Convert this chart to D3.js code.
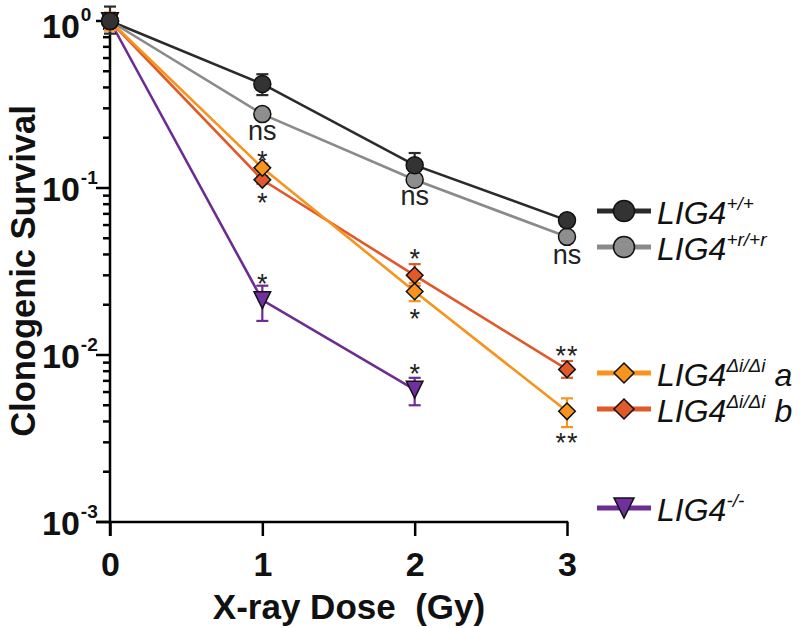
<!DOCTYPE html>
<html><head><meta charset="utf-8">
<script src="https://cdn.jsdelivr.net/npm/d3@7"></script>
<style>
html,body{margin:0;padding:0;background:#fff;}
svg{display:block;font-family:"Liberation Sans",Arial,sans-serif;}
</style></head>
<body>
<svg id="c" width="800" height="628"></svg>
<script>
// ---- data ----
const doses = [0, 1, 2, 3];
const doseTicks = [0, 1, 2, 3];
const yTickExps = [0, -1, -2, -3];

const wtVals = [1.0, 0.42, 0.137, 0.064];
const wtLo   = [0.84, 0.36, 0.118, 0.060];
const wtHi   = [1.22, 0.48, 0.162, 0.068];

const rrVals = [1.0, 0.277, 0.112, 0.051];
const rrLo   = [0.95, 0.27, 0.108, 0.049];
const rrHi   = [1.05, 0.285, 0.116, 0.053];

const diaVals = [1.0, 0.132, 0.024, 0.0046];
const diaLo   = [0.88, 0.125, 0.021, 0.0037];
const diaHi   = [1.12, 0.140, 0.027, 0.0055];

const dibVals = [1.0, 0.112, 0.030, 0.0082];
const dibLo   = [0.88, 0.106, 0.026, 0.0073];
const dibHi   = [1.12, 0.118, 0.035, 0.0092];

const koDoses = [0, 1, 2];
const koVals = [1.0, 0.0213, 0.0062];
const koLo   = [0.9, 0.016, 0.0050];
const koHi   = [1.1, 0.026, 0.0073];

const seriesNames = ["+/+", "+r/+r", "Δi/Δi", "Δi/Δi", "-/-"];
const seriesSuffix = ["", "", "a", "b", ""];

// significance annotations
const annDoses  = [1, 1, 1, 1, 2, 2, 2, 2, 3, 3, 3];
const annLabels = ["ns", "*", "*", "*", "ns", "*", "*", "*", "ns", "**", "**"];
const annYpx    = [132, 155, 197, 278, 197, 253, 313, 368, 256, 350, 437];

// ---- layout ----
const svg = d3.select("#c");
const x = d3.scaleLinear().domain([0, 3]).range([110, 567]);
const y = d3.scaleLog().domain([1e-3, 1]).range([522, 21]);

const colors = {
  wt: {line: "#2b2b2b", fill: "#333333"},
  rr: {line: "#8a8a8a", fill: "#8e8e8e"},
  a:  {line: "#f7941d", fill: "#f7941d"},
  b:  {line: "#e0592a", fill: "#e0592a"},
  ko: {line: "#6d2c91", fill: "#7030a0"}
};

function mk(ds, vals, lo, hi) { return ds.map((d, i) => ({d, v: vals[i], lo: lo[i], hi: hi[i]})); }
const series = [
  {key: "wt", pts: mk(doses, wtVals, wtLo, wtHi), shape: "circle"},
  {key: "rr", pts: mk(doses, rrVals, rrLo, rrHi), shape: "circle"},
  {key: "ko", pts: mk(koDoses, koVals, koLo, koHi), shape: "tri"},
  {key: "b",  pts: mk(doses, dibVals, dibLo, dibHi), shape: "diamond"},
  {key: "a",  pts: mk(doses, diaVals, diaLo, diaHi), shape: "diamond"}
];

function shapePath(shape, r) {
  if (shape === "circle") return d3.symbol().type(d3.symbolCircle).size(Math.PI * r * r)();
  if (shape === "diamond") return `M0,${-r}L${r},0L0,${r}L${-r},0Z`;
  return `M${-r},${-r}L${r},${-r}L0,${r}Z`;
}

// axes
const axG = svg.append("g");
axG.append("line").attr("x1", 110).attr("x2", 110).attr("y1", y(1)).attr("y2", 536)
  .attr("stroke", "#000").attr("stroke-width", 2.5);
axG.append("line").attr("x1", 96).attr("x2", x(3) + 1.2).attr("y1", 522).attr("y2", 522)
  .attr("stroke", "#000").attr("stroke-width", 2.5);
const yTicks = [];
for (let e = -3; e <= 0; e++) {
  yTicks.push({v: Math.pow(10, e), major: true});
  if (e < 0) for (let m = 2; m <= 9; m++) yTicks.push({v: m * Math.pow(10, e), major: false});
}
axG.selectAll("line.yt").data(yTicks).join("line").attr("class", "yt")
  .attr("x1", d => d.major ? 96 : 103).attr("x2", 110)
  .attr("y1", d => y(d.v)).attr("y2", d => y(d.v))
  .attr("stroke", "#000").attr("stroke-width", 2.5);
const xAxisG = svg.append("g").attr("transform", "translate(0,522)")
  .call(d3.axisBottom(x).tickValues(doseTicks).tickSize(14).tickSizeOuter(0).tickFormat(d3.format("d")));
xAxisG.select(".domain").remove();
xAxisG.selectAll(".tick line").attr("stroke", "#000").attr("stroke-width", 2.5);
xAxisG.selectAll(".tick text").attr("font-size", 34).attr("font-weight", "bold")
  .attr("font-family", "Liberation Sans, Arial, sans-serif").attr("fill", "#111").attr("dy", null).attr("y", 54);

// y tick labels
const yl = svg.append("g");
yTickExps.forEach(e => {
  const t = yl.append("text").attr("x", 42).attr("y", y(Math.pow(10, e)) + 12.5 + (e === 0 ? 4 : 0))
    .attr("font-size", 34).attr("font-weight", "bold").attr("fill", "#111");
  t.append("tspan").text("10");
  t.append("tspan").attr("font-size", 19).attr("dy", -17).attr("dx", 1).text(String(e));
});

// axis titles
svg.append("text").attr("x", 349).attr("y", 619).attr("text-anchor", "middle")
  .attr("font-size", 35).attr("font-weight", "bold").attr("fill", "#111")
  .style("white-space", "pre").text("X-ray Dose  (Gy)");
svg.append("text").attr("transform", "translate(35,271) rotate(-90)").attr("text-anchor", "middle")
  .attr("font-size", 34.5).attr("font-weight", "bold").attr("fill", "#111")
  .text("Clonogenic Survival");

// lines
const line = d3.line().x(p => x(p.d)).y(p => y(p.v));
const plot = svg.append("g");
series.forEach(s => {
  plot.append("path").datum(s.pts).attr("d", line).attr("fill", "none")
    .attr("stroke", colors[s.key].line).attr("stroke-width", 2.6);
});
// error bars
series.forEach(s => {
  const g = plot.append("g").attr("stroke", colors[s.key].line).attr("stroke-width", 2.2);
  s.pts.forEach(p => {
    g.append("line").attr("x1", x(p.d)).attr("x2", x(p.d)).attr("y1", y(p.lo)).attr("y2", y(p.hi));
    g.append("line").attr("x1", x(p.d) - 6).attr("x2", x(p.d) + 6).attr("y1", y(p.lo)).attr("y2", y(p.lo));
    g.append("line").attr("x1", x(p.d) - 6).attr("x2", x(p.d) + 6).attr("y1", y(p.hi)).attr("y2", y(p.hi));
  });
});
// markers
const order = ["ko", "b", "a", "rr", "wt"];
order.forEach(k => {
  const s = series.find(q => q.key === k);
  const r = s.shape === "circle" ? 8.5 : 8.3;
  plot.selectAll(null).data(s.pts).join("path")
    .attr("transform", p => `translate(${x(p.d)},${y(p.v)})`)
    .attr("d", shapePath(s.shape, r))
    .attr("fill", colors[k].fill).attr("stroke", "#111").attr("stroke-width", 1.5);
});

// annotations
annLabels.forEach((lab, i) => {
  const isNs = lab === "ns";
  svg.append("text").attr("x", x(annDoses[i])).attr("text-anchor", "middle")
    .attr("y", annYpx[i] + (isNs ? 8 : 15))
    .attr("font-size", 27).attr("fill", "#222")
    .attr("letter-spacing", lab === "**" ? 1 : 0)
    .text(lab);
});

// legend
const legY = [211, 247, 373, 409, 508];
const legKeys = ["wt", "rr", "a", "b", "ko"];
const legShapes = ["circle", "circle", "diamond", "diamond", "tri"];
const leg = svg.append("g");
legKeys.forEach((k, i) => {
  const yy = legY[i];
  leg.append("line").attr("x1", 597).attr("x2", 651).attr("y1", yy).attr("y2", yy)
    .attr("stroke", colors[k].line).attr("stroke-width", 5);
  leg.append("path").attr("transform", `translate(624,${yy})`)
    .attr("d", shapePath(legShapes[i], legShapes[i] === "circle" ? 10.5 : 10))
    .attr("fill", colors[k].fill).attr("stroke", "#111").attr("stroke-width", 1.5);
  const t = leg.append("text").attr("x", 657).attr("y", yy + 13)
    .attr("font-size", 32).attr("font-style", "italic").attr("fill", "#111");
  t.append("tspan").text("LIG4");
  t.append("tspan").attr("font-size", 19).attr("dy", -14).text(seriesNames[i]);
  if (seriesSuffix[i]) t.append("tspan").attr("dy", 14).text(" " + seriesSuffix[i]);
});
</script>
</body></html>
